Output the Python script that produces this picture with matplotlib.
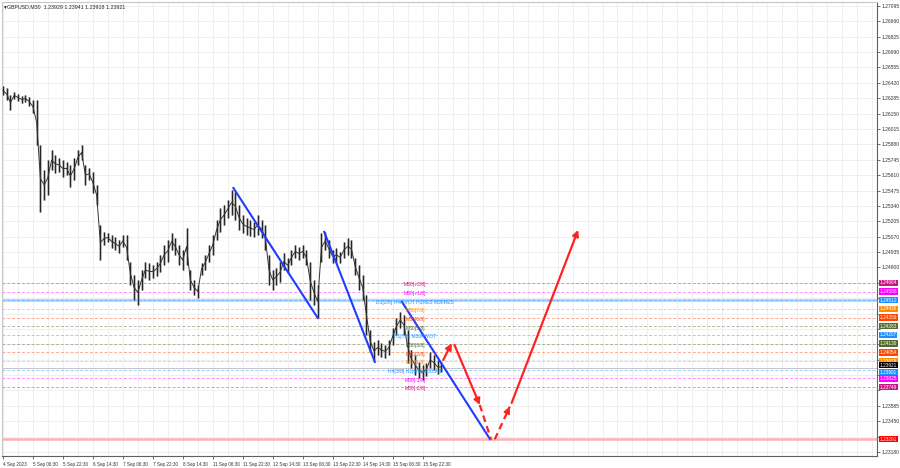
import matplotlib
matplotlib.use("Agg")
import matplotlib.pyplot as plt
from matplotlib.transforms import blended_transform_factory

plt.rcParams['font.family'] = ['Liberation Sans', 'DejaVu Sans']

# GBPUSD M30, every 4th bar: high / low
bar_step = 4
highs = [
    1.26393, 1.26375, 1.26314, 1.26340, 1.26323, 1.26305, 1.26314, 1.26296, 1.26270, 1.26270,
    1.25875, 1.25655, 1.25743, 1.25831, 1.25787, 1.25761, 1.25743, 1.25726, 1.25699, 1.25761,
    1.25831, 1.25875, 1.25699, 1.25673, 1.25638, 1.25524, 1.25172, 1.25111, 1.25102, 1.25085,
    1.25067, 1.25041, 1.25085, 1.25085, 1.24848, 1.24734, 1.24690, 1.24777, 1.24848, 1.24839,
    1.24821, 1.24848, 1.24909, 1.24997, 1.25041, 1.25102, 1.25058, 1.24997, 1.24953, 1.25146,
    1.24777, 1.24690, 1.24646, 1.24839, 1.24909, 1.24997, 1.25085, 1.25216, 1.25322, 1.25348,
    1.25392, 1.25480, 1.25462, 1.25348, 1.25260, 1.25234, 1.25216, 1.25199, 1.25260, 1.25216,
    1.25172, 1.24909, 1.24777, 1.24795, 1.24848, 1.24927, 1.24883, 1.24953, 1.24997, 1.24979,
    1.24997, 1.24953, 1.24848, 1.24690, 1.24646, 1.25102, 1.25111, 1.25041, 1.24953, 1.24971,
    1.24936, 1.25023, 1.25058, 1.25041, 1.24883, 1.24821, 1.24734, 1.24558, 1.24251, 1.24145,
    1.24163, 1.24137, 1.24119, 1.24163, 1.24268, 1.24356, 1.24409, 1.24382, 1.24251, 1.24075,
    1.24031, 1.23970, 1.23943, 1.23961, 1.24057, 1.24031, 1.23987, 1.23970]
lows = [
    1.26314, 1.26270, 1.26182, 1.26279, 1.26261, 1.26244, 1.26252, 1.26217, 1.26156, 1.25875,
    1.25287, 1.25392, 1.25436, 1.25655, 1.25629, 1.25638, 1.25594, 1.25612, 1.25506, 1.25568,
    1.25699, 1.25743, 1.25524, 1.25568, 1.25453, 1.25348, 1.24865, 1.24997, 1.25023, 1.24971,
    1.24953, 1.24927, 1.24979, 1.24865, 1.24646, 1.24514, 1.24470, 1.24602, 1.24707, 1.24690,
    1.24707, 1.24725, 1.24760, 1.24821, 1.24848, 1.24953, 1.24909, 1.24821, 1.24777, 1.24821,
    1.24602, 1.24558, 1.24532, 1.24734, 1.24777, 1.24848, 1.24909, 1.25041, 1.25111, 1.25172,
    1.25234, 1.25260, 1.25216, 1.25129, 1.25102, 1.25085, 1.25076, 1.25067, 1.25085, 1.25058,
    1.24953, 1.24646, 1.24602, 1.24646, 1.24672, 1.24777, 1.24751, 1.24821, 1.24883, 1.24865,
    1.24883, 1.24821, 1.24514, 1.24470, 1.24356, 1.24848, 1.24953, 1.24883, 1.24839, 1.24848,
    1.24839, 1.24883, 1.24909, 1.24883, 1.24734, 1.24602, 1.24514, 1.24207, 1.24057, 1.23987,
    1.24031, 1.24014, 1.24005, 1.24031, 1.24119, 1.24207, 1.24268, 1.24207, 1.23961, 1.23917,
    1.23856, 1.23829, 1.23812, 1.23847, 1.23917, 1.23899, 1.23864, 1.23882]

time_ticks = [0, 32, 64, 96, 128, 160, 192, 224, 256, 288, 320, 352, 384, 416, 448]
time_labels = ["4 Sep 2023", "5 Sep 06:30", "5 Sep 22:30", "6 Sep 14:30", "7 Sep 06:30",
               "7 Sep 22:30", "8 Sep 14:30", "11 Sep 06:30", "11 Sep 22:30", "12 Sep 14:30",
               "13 Sep 06:30", "13 Sep 22:30", "14 Sep 14:30", "15 Sep 06:30", "15 Sep 22:30"]

price_ticks = [1.27095, 1.26960, 1.26825, 1.26690, 1.26555, 1.26420, 1.26285, 1.26150,
               1.26015, 1.25880, 1.25745, 1.25610, 1.25475, 1.25340, 1.25205, 1.25070,
               1.24935, 1.24800, 1.24665, 1.24530, 1.24395, 1.24260, 1.24125, 1.23990,
               1.23855, 1.23720, 1.23585, 1.23450, 1.23315, 1.23180]
# tick labels hidden behind the coloured price boxes
hidden_ticks = [1.24665, 1.24530, 1.24395, 1.24260, 1.24125, 1.23990, 1.23855, 1.23720,
                1.23315]

# Murrey levels
level_prices = [1.24664, 1.24588, 1.24512, 1.24436, 1.24359, 1.24283, 1.24207,
                1.24130, 1.24054, 1.23978, 1.23901, 1.23825, 1.23749]
level_names = ["M30[+2/8]", "M30[+1/8]", "D1[2/8] H4PIVOT H1RES M30RES", "M30[7/8]",
               "M30[6/8]", "M30[5/8]", "H1[7/8] M30PIVOT", "M30[3/8]", "M30[2/8]",
               "M30[1/8]", "H4[3/8] H1[6/8] M30SUP", "M30[-1/8]", "M30[-2/8]"]
level_colors = ["#c71585", "#ff00ff", "#1e90ff", "#ff8c00", "#ff4500", "#556b2f", "#1e90ff",
                "#556b2f", "#ff4500", "#ff8c00", "#1e90ff", "#ff00ff", "#c71585"]

bid = 1.23921
target = 1.23291

# drawn trend lines (bar, price)
blue_lines = [((246, 1.25497), (336, 1.24356)),
              ((343, 1.25111), (397, 1.23970)),
              ((426, 1.24496), (520, 1.23291))]
red_arrows = [((470, 1.23987), (479, 1.24134), "solid", True),
              ((482, 1.24119), (509, 1.23592), "solid", True),
              ((509, 1.23592), (521, 1.23291), "dashed", False),
              ((525, 1.23291), (541, 1.23577), "dashed", True),
              ((543, 1.23610), (614, 1.25129), "solid", True)]

fig = plt.figure(figsize=(9, 4.68), dpi=100)
ax = fig.add_axes([2 / 900, 12 / 468, 875 / 900, 454 / 468])
ax.set_xlim(-1, 933)
ax.set_ylim(1.23144, 1.27130)

for x in range(0, 933, 16):
    ax.axvline(x, color="#ececec", lw=0.6, zorder=0)
for p in price_ticks:
    ax.axhline(p, color="#ececec", lw=0.6, zorder=0)

# levels
ax.axhline(level_prices[2], color="#b5dbff", lw=2.2, zorder=1)
ax.axhline(target, color="#ffb0b0", lw=1.8, zorder=1)
for p, c in zip(level_prices, level_colors):
    ax.axhline(p, color=c, lw=0.7, ls=(0, (3, 2)), alpha=0.45, zorder=1)
ax.axhline(bid, color="#bbbbbb", lw=0.6, zorder=1)

# price bars
bars = [i * bar_step for i in range(len(highs))]
mids = [(h + l) / 2 for h, l in zip(highs, lows)]
ax.vlines(bars, lows, highs, color="#b0b0b0", lw=1.8, zorder=2)
ax.vlines(bars, lows, highs, color="#262626", lw=0.8, zorder=3)
ax.plot(bars, mids, color="#333333", lw=0.7, zorder=3)

for (x0, y0), (x1, y1) in blue_lines:
    ax.plot([x0, x1], [y0, y1], color="#1f3cff", lw=1.5, zorder=4)

for (x0, y0), (x1, y1), style, head in red_arrows:
    if style == "dashed":
        ax.plot([x0, x1], [y0, y1], color="#ff2222", lw=1.6, ls=(0, (3, 2)), zorder=5)
        if head:
            ax.annotate("", xy=(x1, y1), xytext=(x1 - (x1 - x0) * 0.2, y1 - (y1 - y0) * 0.2),
                        arrowprops=dict(arrowstyle="-|>,head_length=0.35,head_width=0.18",
                                        color="#ff2222", lw=1.4, shrinkA=0, shrinkB=0), zorder=5)
    else:
        ax.annotate("", xy=(x1, y1), xytext=(x0, y0),
                    arrowprops=dict(arrowstyle="-|>,head_length=0.35,head_width=0.18",
                                    color="#ff2222", lw=1.6, shrinkA=0, shrinkB=0), zorder=5)

# level labels
for p, name, c in zip(level_prices, level_names, level_colors):
    ax.text(440, p + 0.00006, name, color=c, fontsize=3.6, ha="center", va="top", zorder=6)

# axes style
for s in ax.spines.values():
    s.set_color("#c8c8c8")
    s.set_linewidth(0.8)
ax.spines["right"].set_color("#606060")
ax.spines["bottom"].set_color("#606060")

ax.yaxis.tick_right()
ax.set_yticks(price_ticks)
ax.set_yticklabels(["" if p in hidden_ticks else f"{p:.5f}" for p in price_ticks])
ax.tick_params(axis="y", labelsize=3.6, length=2, width=0.5, pad=1.5, colors="#333333")
ax.set_xticks(time_ticks)
ax.set_xticklabels(time_labels, ha="left")
ax.tick_params(axis="x", labelsize=3.3, length=2, width=0.5, pad=2, colors="#333333")

# right-axis price boxes (bid box sits just above the M30SUP box)
trans = blended_transform_factory(ax.transAxes, ax.transData)
box_prices = level_prices[:10] + [bid] + level_prices[10:] + [target]
box_colors = level_colors[:10] + ["#000000"] + level_colors[10:] + ["#ff0000"]
box_va = ["center"] * 10 + ["bottom", "top", "center", "center", "center"]
for p, c, va in zip(box_prices, box_colors, box_va):
    ax.text(1.003, p, f"{p:.5f}", transform=trans, color="white", fontsize=3.4,
            ha="left", va=va, clip_on=False, zorder=7,
            bbox=dict(boxstyle="square,pad=0.15", fc=c, ec="none"))

fig.text(2 / 900, 1 - 7 / 468, "\u25bc", fontsize=3.5, va="center", color="#222222")
fig.text(7 / 900, 1 - 7 / 468, "GBPUSD,M30  1.23929 1.23941 1.23918 1.23921",
         fontsize=3.8, va="center", color="#222222")

fig.savefig("out.png", dpi=100, facecolor="white")
